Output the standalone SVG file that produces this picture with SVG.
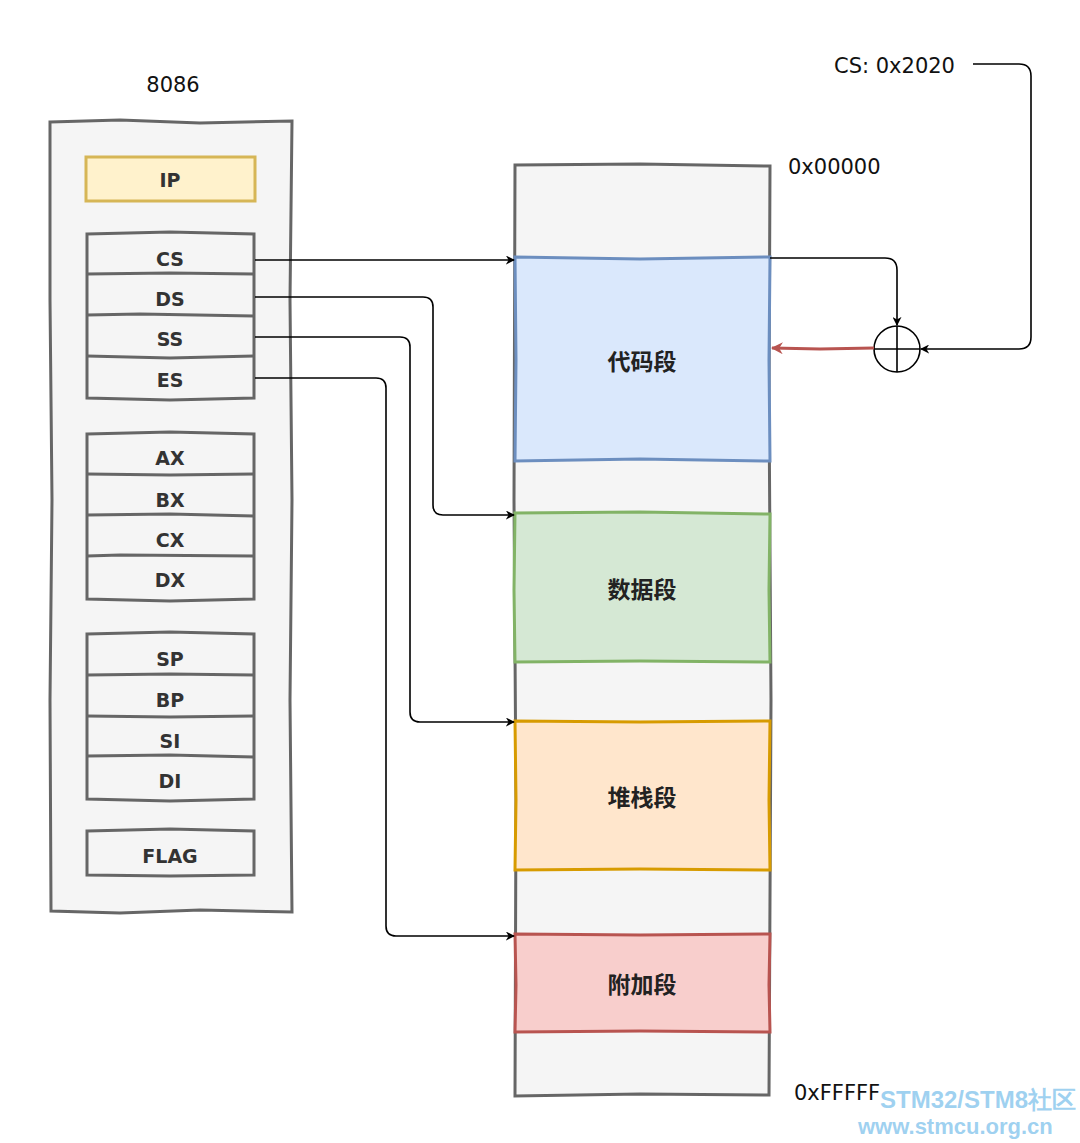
<svg xmlns="http://www.w3.org/2000/svg" width="1080" height="1143" viewBox="0 0 1080 1143">
<style>
.box{fill:#f5f5f5;stroke:#666;stroke-width:3}
.reg{fill:#f5f5f5;stroke:#666;stroke-width:3}
.rl{font-family:"DejaVu Sans",sans-serif;font-weight:bold;font-size:19px;fill:#333;text-anchor:middle}
.seg{font-family:"Noto Sans CJK SC",sans-serif;font-weight:bold;font-size:23px;fill:#222;text-anchor:middle}
.lbl{font-family:"DejaVu Sans",sans-serif;font-size:21px;fill:#111}
.ln{fill:none;stroke:#000;stroke-width:1.6}
.wm{font-family:"Liberation Sans",sans-serif;font-weight:bold;fill:#8ec9ee;fill-opacity:0.85}
</style>
<defs>
<marker id="ah" viewBox="0 0 10 10" refX="9" refY="5" markerWidth="9" markerHeight="9" markerUnits="userSpaceOnUse" orient="auto">
<path d="M0,0 L10,5 L0,10 L3,5 Z" fill="#000"/>
</marker>
<marker id="ahr" viewBox="0 0 10 10" refX="9" refY="5" markerWidth="12" markerHeight="12" markerUnits="userSpaceOnUse" orient="auto">
<path d="M0,0 L10,5 L0,10 L3,5 Z" fill="#b85450"/>
</marker>
</defs>
<rect width="1080" height="1143" fill="#fff"/>

<g id="cpu">
<text class="lbl" x="173" y="92" text-anchor="middle">8086</text>
<path class="box" d="M50,122 L120,120 L200,123 L292,121 L290,300 L292,500 L290,700 L292,912 L200,910 L120,913 L51,911 L50,700 L52,500 L50,300 Z"/>
</g>

<g id="ip">
<rect x="86" y="157" width="169" height="44" fill="#fff2cc" stroke="#d6b656" stroke-width="3"/>
<text class="rl" x="170" y="187">IP</text>
</g>

<g id="segregs">
<path class="reg" d="M87,234 L170,232 L254,234 L254,398 L170,400 L87,398 Z"/>
<path fill="none" stroke="#666" stroke-width="3" d="M87,274 L170,273 L254,274 M87,315 L140,314 L254,316 M87,356 L170,358 L254,356"/>
<text class="rl" x="170" y="266">CS</text>
<text class="rl" x="170" y="306">DS</text>
<text class="rl" x="170" y="346">SS</text>
<text class="rl" x="170" y="387">ES</text>
</g>

<g id="genregs">
<path class="reg" d="M87,434 L170,432 L254,434 L254,599 L170,601 L87,599 Z"/>
<path fill="none" stroke="#666" stroke-width="3" d="M87,474 L170,475 L254,474 M87,515 L170,514 L254,516 M87,556 L120,555 L254,556"/>
<text class="rl" x="170" y="465">AX</text>
<text class="rl" x="170" y="507">BX</text>
<text class="rl" x="170" y="547">CX</text>
<text class="rl" x="170" y="587">DX</text>
</g>

<g id="ptrregs">
<path class="reg" d="M87,634 L170,632 L254,634 L254,799 L170,801 L87,799 Z"/>
<path fill="none" stroke="#666" stroke-width="3" d="M87,675 L170,674 L254,675 M87,716 L170,717 L254,716 M87,756 L170,755 L254,757"/>
<text class="rl" x="170" y="666">SP</text>
<text class="rl" x="170" y="707">BP</text>
<text class="rl" x="170" y="748">SI</text>
<text class="rl" x="170" y="788">DI</text>
</g>

<g id="flag">
<path class="reg" d="M87,831 L170,829 L254,831 L254,875 L170,876 L87,875 Z"/>
<text class="rl" x="170" y="863">FLAG</text>
</g>

<g id="memory">
<path class="box" d="M515,165 L640,164 L770,166 L769,400 L771,700 L769,1095 L640,1094 L515,1096 L516,800 L514,500 Z"/>
<text class="lbl" x="788" y="174">0x00000</text>
<text class="lbl" x="794" y="1100" font-size="19">0xFFFFF</text>
</g>

<g id="code">
<path fill="#dae8fc" stroke="#6c8ebf" stroke-width="3" d="M515,257 L640,259 L770,257 L769,360 L770,461 L640,459 L515,461 L516,360 Z"/>
<text class="seg" x="642" y="370">代码段</text>
</g>
<g id="data">
<path fill="#d5e8d4" stroke="#82b366" stroke-width="3" d="M515,513 L640,512 L770,514 L769,590 L770,662 L640,661 L515,662 L514,590 Z"/>
<text class="seg" x="642" y="598">数据段</text>
</g>
<g id="stack">
<path fill="#ffe6cc" stroke="#d79b00" stroke-width="3" d="M515,721 L640,722 L770,721 L769,800 L770,870 L640,869 L515,870 L516,800 Z"/>
<text class="seg" x="642" y="806">堆栈段</text>
</g>
<g id="extra">
<path fill="#f8cecc" stroke="#b85450" stroke-width="3" d="M515,934 L640,935 L770,934 L769,985 L770,1032 L640,1031 L515,1032 L516,985 Z"/>
<text class="seg" x="642" y="993">附加段</text>
</g>

<g id="adder">
<circle cx="897" cy="349" r="23" fill="#fff" stroke="#000" stroke-width="1.6"/>
<path d="M874,349 H920 M897,326 V372" stroke="#000" stroke-width="1.6"/>
</g>

<g id="cslabel">
<text class="lbl" x="834" y="73">CS: 0x2020</text>
</g>

<g id="connectors">
<path class="ln" marker-end="url(#ah)" d="M255,260 H514"/>
<path class="ln" marker-end="url(#ah)" d="M255,297 H423 Q433,297 433,307 V505 Q433,515 443,515 H514"/>
<path class="ln" marker-end="url(#ah)" d="M255,337 H400 Q410,337 410,347 V712 Q410,722 420,722 H514"/>
<path class="ln" marker-end="url(#ah)" d="M255,378 H376 Q386,378 386,388 V926 Q386,936 396,936 H514"/>
<path class="ln" marker-end="url(#ah)" d="M770,258 H885 Q897,258 897,270 V325"/>
<path class="ln" marker-end="url(#ah)" d="M973,64 H1019 Q1031,64 1031,76 V337 Q1031,349 1019,349 H921"/>
<path fill="none" stroke="#b85450" stroke-width="3" marker-end="url(#ahr)" d="M874,348 L820,349 L772,348"/>
</g>

<g id="watermark">
<text class="wm" x="880" y="1108" font-size="24">STM32/STM8社区</text>
<text class="wm" x="858" y="1134" font-size="22">www.stmcu.org.cn</text>
</g>
</svg>
